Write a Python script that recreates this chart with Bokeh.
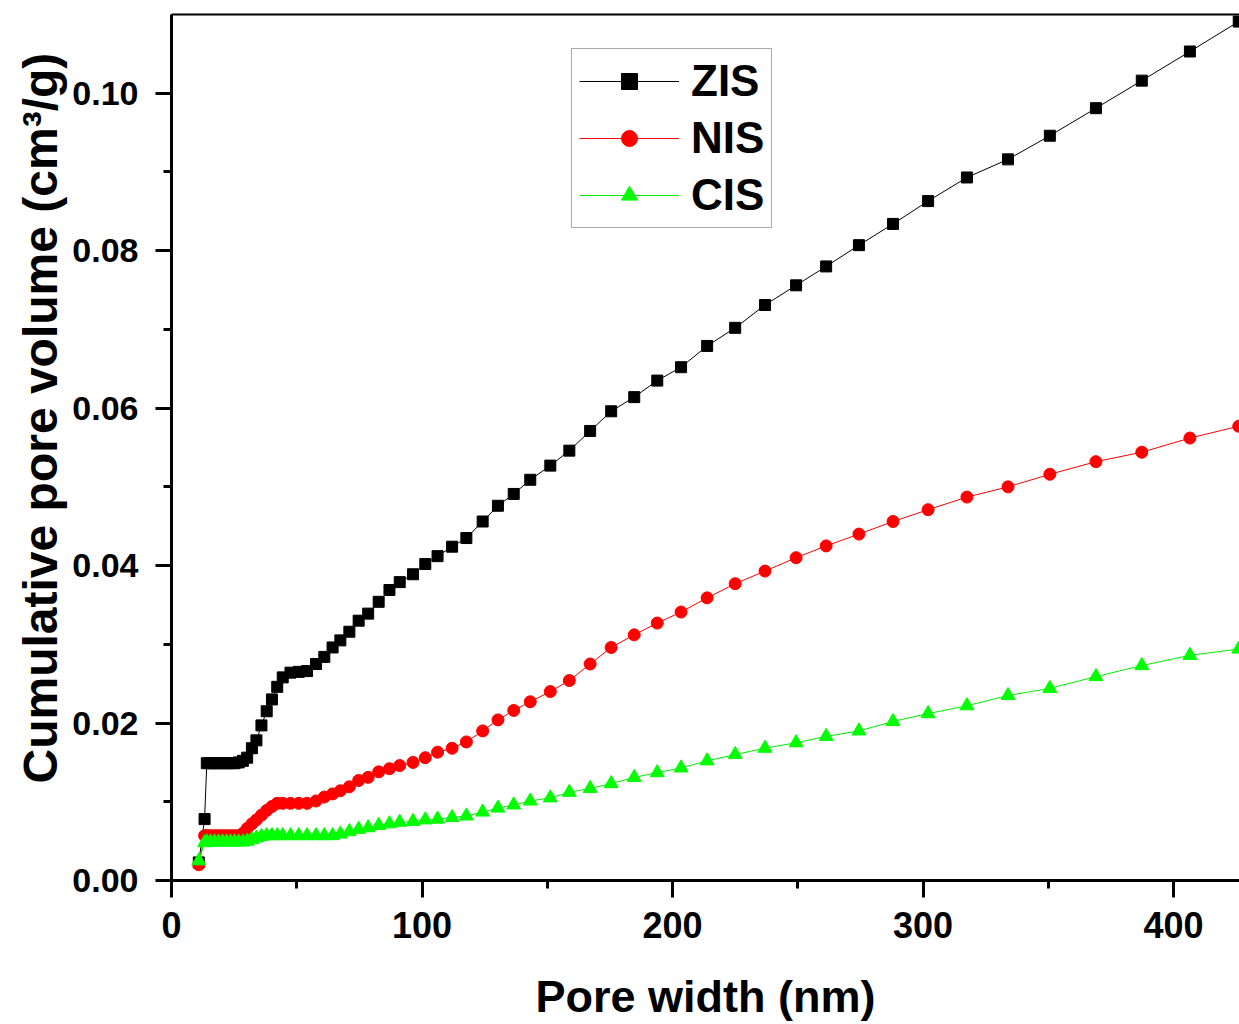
from bokeh.plotting import figure
from bokeh.models import Range1d, LinearAxis, FixedTicker, PrintfTickFormatter, Legend, LegendItem, Title
from bokeh.embed import file_html
from bokeh.resources import INLINE

pore_width = [10.9, 13.2, 14.1, 15.6, 17.2, 18.8, 20.4, 22.0, 23.6, 25.2,
              26.8, 28.5, 30.2, 32.1, 33.9, 35.9, 38.0, 40.1, 42.2, 44.4,
              47.5, 50.8, 54.1, 57.7, 61.0, 64.3, 67.4, 71.0, 74.7, 78.5,
              82.7, 87.0, 91.1, 96.4, 101.3, 106.2, 112.0, 117.7, 124.2, 130.3,
              136.6, 143.2, 151.2, 158.8, 167.1, 175.5, 184.7, 193.9, 203.4, 213.8,
              225.0, 236.9, 249.3, 261.3, 274.4, 288.0, 302.0, 317.5, 333.9, 350.6,
              369.0, 387.3, 406.5, 426.0]

zis = [0.0023, 0.0078, 0.0149, 0.0149, 0.0149, 0.0149, 0.0149, 0.0149, 0.0149, 0.0149,
       0.0150, 0.0152, 0.0156, 0.0168, 0.0178, 0.0197, 0.0215, 0.0230, 0.0246, 0.0258,
       0.0264, 0.0265, 0.0266, 0.0275, 0.0284, 0.0296, 0.0305, 0.0316, 0.0330, 0.0339,
       0.0354, 0.0369, 0.0379, 0.0389, 0.0402, 0.0412, 0.0424, 0.0435, 0.0456, 0.0476,
       0.0491, 0.0509, 0.0527, 0.0546, 0.0571, 0.0596, 0.0614, 0.0635, 0.0652, 0.0679,
       0.0702, 0.0731, 0.0756, 0.0780, 0.0807, 0.0834, 0.0863, 0.0893, 0.0916, 0.0946,
       0.0981, 0.1016, 0.1053, 0.1091]

nis = [0.0020, 0.0057, 0.0057, 0.0057, 0.0057, 0.0057, 0.0057, 0.0057, 0.0057, 0.0057,
       0.0057, 0.0060, 0.0066, 0.0072, 0.0077, 0.0083, 0.0089, 0.0094, 0.0098, 0.0098,
       0.0098, 0.0098, 0.0098, 0.0101, 0.0106, 0.0110, 0.0114, 0.0119, 0.0127, 0.0131,
       0.0138, 0.0142, 0.0146, 0.0150, 0.0156, 0.0163, 0.0168, 0.0176, 0.0190, 0.0204,
       0.0216, 0.0227, 0.0240, 0.0254, 0.0275, 0.0296, 0.0312, 0.0327, 0.0341, 0.0359,
       0.0377, 0.0393, 0.0410, 0.0425, 0.0440, 0.0456, 0.0471, 0.0487, 0.0500, 0.0516,
       0.0532, 0.0544, 0.0562, 0.0577]

cis = [0.0025, 0.0048, 0.0049, 0.0049, 0.0049, 0.0049, 0.0049, 0.0049, 0.0049, 0.0049,
       0.0049, 0.0049, 0.0050, 0.0052, 0.0054, 0.0056, 0.0057, 0.0057, 0.0057, 0.0057,
       0.0057, 0.0057, 0.0057, 0.0057, 0.0057, 0.0057, 0.0059, 0.0062, 0.0065, 0.0067,
       0.0070, 0.0072, 0.0074, 0.0075, 0.0077, 0.0078, 0.0080, 0.0082, 0.0087, 0.0092,
       0.0096, 0.0101, 0.0105, 0.0112, 0.0117, 0.0123, 0.0131, 0.0137, 0.0143, 0.0152,
       0.0160, 0.0168, 0.0175, 0.0183, 0.0190, 0.0202, 0.0212, 0.0222, 0.0235, 0.0244,
       0.0259, 0.0273, 0.0286, 0.0294]

series_names = ["ZIS", "NIS", "CIS"]
x_ticks = [0, 100, 200, 300, 400]
y_ticks = [0.00, 0.02, 0.04, 0.06, 0.08, 0.10]
x_title = "Pore width (nm)"
y_title = "Cumulative pore volume (cm\u00b3/g)"

FONT = "Liberation Sans"

p = figure(width=1239, height=1024, output_backend="svg", toolbar_location=None,
           x_range=Range1d(0, 426.3), y_range=Range1d(0, 0.11),
           min_border_left=171, min_border_right=0, min_border_top=14, min_border_bottom=144)
p.background_fill_color = "white"
p.border_fill_color = "white"
p.outline_line_color = None
p.grid.visible = False

r1l = p.line(pore_width, zis, line_color="black", line_width=1)
r1s = p.scatter(pore_width, zis, marker="square", size=11, fill_color="black", line_color="black")
r2l = p.line(pore_width, nis, line_color="#ff0000", line_width=1)
r2s = p.scatter(pore_width, nis, marker="circle", size=12, fill_color="#ff0000", line_color="#ff0000")
r3l = p.line(pore_width, cis, line_color="#00ee00", line_width=1)
r3s = p.scatter(pore_width, cis, marker="triangle", size=14, fill_color="#00ff00", line_color="#00ff00")

for ax in [p.xaxis[0], p.yaxis[0]]:
    ax.axis_line_width = 3
    ax.major_tick_line_width = 3
    ax.minor_tick_line_width = 3
    ax.major_tick_in = 0
    ax.minor_tick_in = 0
    ax.major_label_text_font = FONT
    ax.major_label_text_font_style = "bold"
    ax.major_label_text_color = "black"
    ax.axis_label_text_font = FONT
    ax.axis_label_text_font_style = "bold"
    ax.axis_label_text_color = "black"

p.xaxis[0].ticker = FixedTicker(ticks=x_ticks, minor_ticks=[50, 150, 250, 350])
p.xaxis[0].major_label_text_font_size = "36px"
p.xaxis[0].axis_label_text_font_size = "45px"
p.xaxis[0].major_tick_out = 17
p.xaxis[0].minor_tick_out = 8
p.xaxis[0].major_label_standoff = 14
p.xaxis[0].axis_label = x_title
p.xaxis[0].axis_label_standoff = 30

p.yaxis[0].ticker = FixedTicker(ticks=y_ticks, minor_ticks=[0.01, 0.03, 0.05, 0.07, 0.09])
p.yaxis[0].formatter = PrintfTickFormatter(format="%.2f")
p.yaxis[0].major_label_text_font_size = "34px"
p.yaxis[0].major_tick_out = 16
p.yaxis[0].minor_tick_out = 8
p.yaxis[0].major_label_standoff = 17

ytitle = Title(text=y_title, align="left", offset=97, standoff=6,
               text_font=FONT, text_font_style="bold", text_font_size="48px", text_color="black")
p.add_layout(ytitle, "left")

top = LinearAxis(ticker=FixedTicker(ticks=[]), axis_line_width=2,
                 major_tick_line_color=None, minor_tick_line_color=None,
                 major_label_text_font_size="0px")
p.add_layout(top, "above")

legend = Legend(items=[LegendItem(label=series_names[0], renderers=[r1l, r1s]),
                       LegendItem(label=series_names[1], renderers=[r2l, r2s]),
                       LegendItem(label=series_names[2], renderers=[r3l, r3s])],
                location=(400, 652))
legend.label_text_font = FONT
legend.label_text_font_style = "bold"
legend.label_text_font_size = "44px"
legend.label_text_color = "black"
legend.glyph_width = 100
legend.glyph_height = 40
legend.label_height = 40
legend.spacing = 7
legend.padding = 7
legend.margin = 0
legend.label_standoff = 12
legend.border_line_color = "#555555"
legend.border_line_width = 1
legend.background_fill_color = "white"
p.add_layout(legend)

open("out.html", "w").write(file_html(p, INLINE))
